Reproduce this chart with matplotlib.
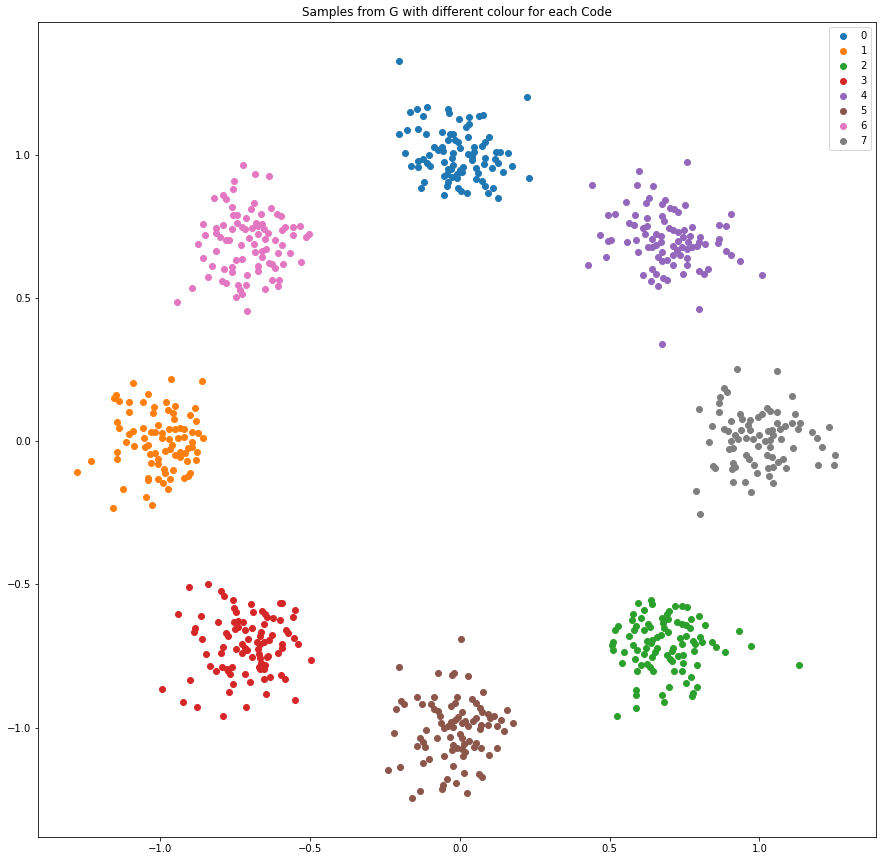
import matplotlib
matplotlib.use("Agg")
import matplotlib.pyplot as plt

# points, one pair of lists per code
code0_x = [-0.204, 0.225, 0.231, -0.166, -0.143, -0.109, -0.122, -0.039, -0.036, -0.002, 0.031, 0.065,
           0.078, -0.204, -0.176, -0.139, -0.112, -0.061, -0.033, -0.022, 0.020, 0.030, 0.028, 0.098,
           0.083, 0.075, -0.039, -0.006, -0.086, -0.061, 0.001, 0.048, -0.184, -0.056, -0.022, -0.102,
           0.028, 0.041, 0.048, 0.120, 0.135, 0.161, -0.164, -0.141, -0.139, -0.122, -0.111, -0.100,
           -0.052, -0.028, -0.022, -0.030, 0.011, 0.006, -0.011, 0.039, 0.052, 0.083, 0.081, 0.108,
           0.117, 0.145, 0.175, 0.128, -0.053, -0.044, -0.028, -0.011, -0.041, -0.044, -0.119, -0.130,
           0.052, 0.059, 0.075, 0.083, -0.008, 0.003, 0.025, -0.053, 0.092, 0.111, 0.128, -0.017,
           0.000, -0.039, -0.072]
code0_y = [1.325, 1.200, 0.917, 1.148, 1.158, 1.165, 1.133, 1.158, 1.146, 1.123, 1.131, 1.136,
           1.137, 1.070, 1.084, 1.088, 1.070, 1.077, 1.073, 1.070, 1.097, 1.106, 1.062, 1.060,
           1.042, 1.030, 1.049, 1.044, 1.025, 1.027, 1.022, 1.027, 1.004, 1.012, 1.006, 1.000,
           1.002, 0.993, 1.008, 1.010, 1.009, 1.004, 0.960, 0.977, 0.955, 0.983, 0.969, 0.960,
           0.973, 0.987, 0.963, 0.948, 0.955, 0.940, 0.932, 0.981, 0.952, 0.987, 0.966, 0.952,
           0.983, 0.940, 0.960, 0.969, 0.925, 0.932, 0.923, 0.917, 0.905, 0.891, 0.903, 0.883,
           0.913, 0.937, 0.909, 0.891, 0.882, 0.874, 0.864, 0.857, 0.864, 0.883, 0.847, 1.051,
           0.946, 0.951, 1.016]

code1_x = [-0.964, -0.863, -1.091, -1.149, -1.154, -1.139, -1.041, -1.057, -1.104, -1.104, -1.021, -1.024,
           -0.981, -0.974, -0.958, -0.952, -0.954, -0.884, -0.900, -0.880, -1.144, -1.138, -1.007, -1.057,
           -1.091, -1.032, -1.018, -0.996, -0.971, -0.952, -0.935, -0.921, -0.896, -0.876, -0.857, -1.104,
           -1.116, -1.088, -1.055, -1.052, -1.043, -0.994, -0.971, -0.960, -0.940, -0.922, -0.896, -0.896,
           -0.985, -0.967, -0.951, -0.935, -0.918, -0.907, -0.879, -1.144, -1.144, -1.034, -1.018, -1.007,
           -1.009, -1.032, -0.935, -0.913, -0.883, -0.989, -0.985, -0.958, -1.041, -1.041, -1.009, -0.993,
           -0.967, -0.922, -0.909, -0.900, -1.231, -1.278, -1.124, -0.974, -1.048, -1.027, -1.157]
code1_y = [0.215, 0.208, 0.201, 0.161, 0.149, 0.141, 0.163, 0.135, 0.135, 0.100, 0.120, 0.097,
           0.135, 0.108, 0.097, 0.122, 0.076, 0.117, 0.091, 0.069, 0.065, 0.044, 0.056, 0.044,
           0.036, 0.030, 0.030, 0.027, 0.041, 0.041, 0.044, 0.041, 0.033, 0.027, 0.009, 0.023,
           -0.005, -0.017, 0.009, -0.022, -0.014, 0.009, 0.006, -0.014, 0.009, 0.015, -0.002, -0.022,
           -0.034, -0.029, -0.049, -0.037, -0.041, -0.026, -0.037, -0.037, -0.061, -0.045, -0.043, -0.063,
           -0.080, -0.078, -0.057, -0.069, -0.066, -0.099, -0.113, -0.101, -0.128, -0.136, -0.134, -0.148,
           -0.134, -0.128, -0.122, -0.113, -0.070, -0.109, -0.168, -0.168, -0.197, -0.223, -0.234]

code2_x = [0.595, 0.638, 0.642, 0.615, 0.579, 0.575, 0.605, 0.698, 0.690, 0.718, 0.742, 0.757,
           0.673, 0.693, 0.771, 0.798, 0.529, 0.518, 0.587, 0.582, 0.627, 0.635, 0.616, 0.679,
           0.682, 0.723, 0.740, 0.753, 0.768, 0.818, 0.693, 0.931, 0.565, 0.671, 0.657, 0.623,
           0.640, 0.735, 0.755, 0.779, 0.784, 0.801, 0.807, 0.843, 0.856, 0.972, 0.512, 0.507,
           0.512, 0.579, 0.590, 0.620, 0.638, 0.657, 0.651, 0.740, 0.712, 0.707, 0.782, 0.885,
           0.549, 0.615, 0.642, 0.690, 0.701, 0.709, 0.729, 0.746, 0.746, 0.584, 0.542, 0.604,
           0.623, 0.634, 0.790, 0.590, 0.645, 0.715, 0.742, 0.771, 0.753, 0.792, 0.698, 0.779,
           0.776, 0.676, 0.682, 0.589, 0.589, 0.589, 0.525, 1.132]
code2_y = [-0.567, -0.555, -0.570, -0.591, -0.605, -0.625, -0.616, -0.593, -0.605, -0.577, -0.577, -0.581,
           -0.616, -0.621, -0.622, -0.612, -0.645, -0.660, -0.645, -0.660, -0.640, -0.648, -0.660, -0.634,
           -0.654, -0.631, -0.640, -0.642, -0.654, -0.642, -0.666, -0.663, -0.681, -0.677, -0.683, -0.698,
           -0.694, -0.686, -0.681, -0.698, -0.707, -0.683, -0.703, -0.703, -0.719, -0.716, -0.703, -0.712,
           -0.730, -0.712, -0.730, -0.724, -0.706, -0.721, -0.735, -0.710, -0.724, -0.733, -0.733, -0.738,
           -0.738, -0.745, -0.753, -0.747, -0.761, -0.768, -0.749, -0.747, -0.773, -0.761, -0.776, -0.782,
           -0.779, -0.788, -0.782, -0.804, -0.804, -0.804, -0.804, -0.825, -0.846, -0.859, -0.859, -0.881,
           -0.890, -0.887, -0.910, -0.869, -0.887, -0.933, -0.960, -0.782]

code3_x = [-0.904, -0.840, -0.799, -0.787, -0.757, -0.698, -0.690, -0.753, -0.748, -0.601, -0.593, -0.550,
           -0.556, -0.940, -0.864, -0.807, -0.660, -0.651, -0.645, -0.623, -0.601, -0.656, -0.753, -0.740,
           -0.723, -0.740, -0.751, -0.718, -0.693, -0.885, -0.887, -0.781, -0.774, -0.664, -0.668, -0.629,
           -0.637, -0.580, -0.575, -0.554, -0.540, -0.860, -0.707, -0.679, -0.668, -0.653, -0.727, -0.791,
           -0.593, -0.593, -0.748, -0.718, -0.712, -0.729, -0.676, -0.670, -0.607, -0.848, -0.799, -0.693,
           -0.668, -0.645, -0.640, -0.664, -0.651, -0.670, -0.656, -0.668, -0.497, -0.835, -0.794, -0.815,
           -0.779, -0.760, -0.774, -0.768, -0.718, -0.700, -0.656, -0.635, -0.596, -0.585, -0.900, -0.994,
           -0.757, -0.770, -0.649, -0.924, -0.877, -0.713, -0.550, -0.790]
code3_y = [-0.511, -0.500, -0.525, -0.541, -0.556, -0.569, -0.597, -0.584, -0.597, -0.567, -0.567, -0.591,
           -0.614, -0.602, -0.609, -0.633, -0.594, -0.602, -0.614, -0.619, -0.623, -0.639, -0.631, -0.627,
           -0.633, -0.648, -0.656, -0.660, -0.651, -0.651, -0.668, -0.669, -0.680, -0.668, -0.681, -0.678,
           -0.695, -0.660, -0.671, -0.689, -0.708, -0.692, -0.692, -0.700, -0.708, -0.700, -0.708, -0.718,
           -0.708, -0.723, -0.725, -0.723, -0.729, -0.739, -0.727, -0.743, -0.739, -0.743, -0.739, -0.755,
           -0.758, -0.755, -0.750, -0.774, -0.782, -0.788, -0.794, -0.797, -0.764, -0.785, -0.788, -0.803,
           -0.794, -0.788, -0.803, -0.813, -0.813, -0.842, -0.831, -0.825, -0.817, -0.829, -0.834, -0.866,
           -0.849, -0.875, -0.883, -0.912, -0.928, -0.928, -0.904, -0.960]

code4_x = [0.759, 0.599, 0.442, 0.592, 0.646, 0.632, 0.622, 0.555, 0.684, 0.676, 0.701, 0.714,
           0.729, 0.752, 0.495, 0.519, 0.585, 0.626, 0.676, 0.682, 0.906, 0.564, 0.582, 0.612,
           0.623, 0.618, 0.699, 0.712, 0.729, 0.747, 0.776, 0.866, 0.889, 0.469, 0.495, 0.505,
           0.559, 0.589, 0.642, 0.655, 0.671, 0.671, 0.642, 0.629, 0.653, 0.729, 0.746, 0.768,
           0.762, 0.801, 0.798, 0.865, 0.860, 0.818, 0.712, 0.723, 0.740, 0.757, 0.776, 0.790,
           0.595, 0.676, 0.489, 0.429, 0.660, 0.676, 0.692, 0.712, 0.735, 0.759, 0.759, 0.712,
           0.889, 0.906, 0.936, 1.009, 0.642, 0.654, 0.612, 0.679, 0.692, 0.639, 0.662, 0.746,
           0.799, 0.815, 0.829, 0.799, 0.676]
code4_y = [0.975, 0.941, 0.892, 0.892, 0.889, 0.849, 0.830, 0.833, 0.841, 0.827, 0.812, 0.809,
           0.798, 0.823, 0.788, 0.791, 0.788, 0.777, 0.785, 0.767, 0.791, 0.760, 0.753, 0.742,
           0.750, 0.723, 0.742, 0.736, 0.731, 0.736, 0.746, 0.753, 0.749, 0.718, 0.697, 0.700,
           0.695, 0.700, 0.706, 0.721, 0.715, 0.696, 0.678, 0.678, 0.683, 0.699, 0.711, 0.716,
           0.696, 0.713, 0.696, 0.704, 0.690, 0.686, 0.681, 0.667, 0.676, 0.671, 0.676, 0.681,
           0.659, 0.660, 0.641, 0.613, 0.641, 0.628, 0.632, 0.649, 0.651, 0.640, 0.613, 0.616,
           0.664, 0.651, 0.627, 0.578, 0.599, 0.584, 0.578, 0.570, 0.561, 0.557, 0.540, 0.582,
           0.593, 0.582, 0.599, 0.460, 0.337]

code5_x = [0.004, -0.203, -0.072, -0.028, -0.019, 0.028, 0.078, -0.142, -0.086, -0.009, -0.197, -0.186,
           -0.213, -0.126, -0.097, -0.086, -0.030, -0.017, 0.041, 0.053, 0.067, 0.072, -0.072, -0.067,
           0.008, 0.095, 0.100, 0.114, 0.158, 0.137, 0.052, 0.045, -0.008, -0.017, -0.030, 0.006,
           0.017, 0.026, -0.063, -0.055, -0.041, -0.022, 0.070, 0.095, 0.122, 0.178, 0.148, 0.067,
           -0.115, -0.219, -0.076, -0.034, 0.000, 0.008, -0.134, -0.125, -0.117, -0.142, -0.022, -0.011,
           -0.028, 0.015, 0.031, 0.052, 0.048, 0.070, 0.008, 0.017, 0.011, -0.052, 0.098, 0.125,
           -0.103, -0.122, -0.200, -0.239, -0.022, 0.015, 0.064, 0.072, -0.042, -0.015, -0.056, -0.060,
           -0.132, 0.024, -0.161]
code5_y = [-0.692, -0.790, -0.811, -0.817, -0.810, -0.821, -0.877, -0.895, -0.895, -0.895, -0.907, -0.917,
           -0.936, -0.919, -0.918, -0.935, -0.926, -0.916, -0.900, -0.916, -0.931, -0.947, -0.942, -0.959,
           -0.947, -0.954, -0.966, -0.959, -0.940, -0.972, -0.968, -0.976, -0.962, -0.974, -0.980, -0.985,
           -0.977, -0.994, -0.984, -1.003, -0.994, -0.997, -0.991, -0.991, -0.994, -0.985, -1.013, -1.006,
           -1.010, -1.020, -1.038, -1.034, -1.023, -1.038, -1.038, -1.052, -1.068, -1.064, -1.061, -1.070,
           -1.079, -1.056, -1.047, -1.055, -1.069, -1.070, -1.075, -1.084, -1.098, -1.100, -1.096, -1.073,
           -1.111, -1.124, -1.139, -1.149, -1.135, -1.157, -1.163, -1.172, -1.180, -1.195, -1.201, -1.216,
           -1.222, -1.230, -1.247]

code6_x = [-0.723, -0.683, -0.637, -0.753, -0.757, -0.820, -0.790, -0.782, -0.687, -0.698, -0.760, -0.757,
           -0.743, -0.663, -0.630, -0.610, -0.598, -0.857, -0.790, -0.816, -0.760, -0.743, -0.729, -0.718,
           -0.714, -0.682, -0.693, -0.673, -0.660, -0.654, -0.640, -0.673, -0.595, -0.584, -0.556, -0.533,
           -0.559, -0.513, -0.504, -0.850, -0.816, -0.801, -0.781, -0.771, -0.874, -0.731, -0.704, -0.687,
           -0.651, -0.617, -0.593, -0.816, -0.857, -0.749, -0.727, -0.684, -0.662, -0.648, -0.662, -0.606,
           -0.566, -0.530, -0.829, -0.787, -0.760, -0.760, -0.675, -0.675, -0.638, -0.627, -0.618, -0.590,
           -0.840, -0.711, -0.627, -0.603, -0.606, -0.793, -0.782, -0.740, -0.714, -0.735, -0.727, -0.748,
           -0.651, -0.894, -0.944, -0.710]
code6_y = [0.962, 0.931, 0.924, 0.906, 0.881, 0.847, 0.857, 0.846, 0.830, 0.809, 0.816, 0.788,
           0.788, 0.791, 0.812, 0.791, 0.785, 0.756, 0.753, 0.745, 0.739, 0.760, 0.746, 0.741,
           0.777, 0.762, 0.742, 0.750, 0.756, 0.739, 0.725, 0.723, 0.736, 0.746, 0.746, 0.749,
           0.718, 0.713, 0.721, 0.718, 0.727, 0.713, 0.701, 0.701, 0.686, 0.684, 0.707, 0.688,
           0.704, 0.701, 0.683, 0.663, 0.638, 0.632, 0.634, 0.659, 0.663, 0.669, 0.643, 0.655,
           0.655, 0.625, 0.610, 0.600, 0.609, 0.591, 0.611, 0.595, 0.620, 0.618, 0.603, 0.617,
           0.571, 0.578, 0.562, 0.562, 0.541, 0.558, 0.553, 0.545, 0.545, 0.527, 0.512, 0.504,
           0.531, 0.534, 0.484, 0.453]

code7_x = [0.926, 1.060, 0.883, 0.893, 0.869, 0.866, 0.866, 1.110, 0.799, 0.936, 0.942, 0.968,
           0.962, 0.996, 1.009, 1.026, 1.035, 1.057, 1.120, 0.904, 0.843, 0.883, 0.894, 0.918,
           0.938, 0.968, 0.998, 1.027, 1.043, 1.057, 1.068, 1.085, 1.110, 1.136, 1.127, 1.176,
           1.232, 1.193, 0.833, 0.905, 0.929, 0.954, 0.979, 1.018, 1.035, 1.046, 1.071, 0.897,
           0.910, 0.994, 1.035, 1.113, 1.210, 1.252, 1.250, 1.195, 0.954, 0.965, 0.983, 1.026,
           1.043, 1.080, 1.063, 1.088, 0.846, 0.851, 0.913, 0.918, 0.909, 0.991, 1.029, 1.046,
           1.032, 0.913, 0.950, 1.046, 0.972, 0.789, 0.802]
code7_y = [0.250, 0.243, 0.184, 0.171, 0.152, 0.131, 0.100, 0.156, 0.111, 0.094, 0.076, 0.073,
           0.056, 0.085, 0.094, 0.114, 0.106, 0.102, 0.094, 0.070, 0.052, 0.042, 0.035, 0.021,
           0.038, 0.038, 0.021, 0.035, 0.038, 0.062, 0.041, 0.052, 0.062, 0.062, 0.041, 0.031,
           0.048, 0.009, -0.005, -0.001, 0.006, 0.009, 0.006, 0.000, 0.003, 0.021, 0.006, -0.029,
           -0.026, -0.017, -0.022, -0.026, -0.022, -0.050, -0.085, -0.085, -0.050, -0.064, -0.084, -0.050,
           -0.055, -0.064, -0.072, -0.095, -0.087, -0.095, -0.078, -0.090, -0.099, -0.113, -0.095, -0.090,
           -0.122, -0.142, -0.144, -0.148, -0.178, -0.176, -0.256]

codes = ['0', '1', '2', '3', '4', '5', '6', '7']
xs = [code0_x, code1_x, code2_x, code3_x, code4_x, code5_x, code6_x, code7_x]
ys = [code0_y, code1_y, code2_y, code3_y, code4_y, code5_y, code6_y, code7_y]

fig = plt.figure(figsize=(886/72, 862/72), dpi=72)
ax = fig.add_axes([38/886, 1 - 837/862, (876-38)/886, (837-22)/862])

for code, x, y in zip(codes, xs, ys):
    ax.scatter(x, y, label=code)

ax.set_xlim(-1.409, 1.389)
ax.set_ylim(-1.382, 1.4625)
ax.set_xticks([-1.0, -0.5, 0.0, 0.5, 1.0])
ax.set_yticks([-1.0, -0.5, 0.0, 0.5, 1.0])
ax.set_title('Samples from G with different colour for each Code')
ax.legend(loc='upper right')

fig.savefig('out.png', dpi=72)
